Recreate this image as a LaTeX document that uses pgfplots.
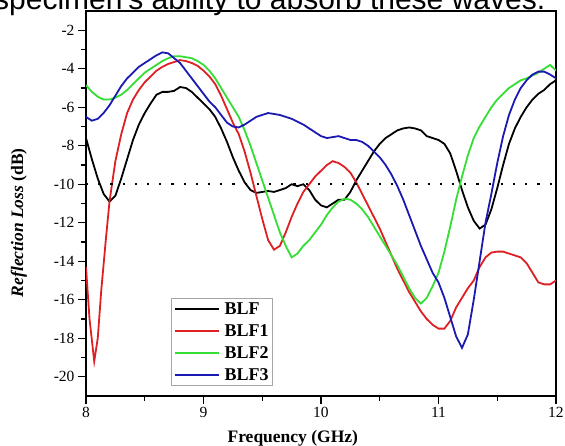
\documentclass[border=0pt]{standalone}
\usepackage{pgfplots}
\pgfplotsset{compat=1.18}
\usepackage{fontspec}
\setmainfont{Liberation Serif}
\newfontfamily\arialfont{Liberation Sans}

\definecolor{blfred}{RGB}{222,32,36}
\definecolor{blfgreen}{RGB}{52,222,52}
\definecolor{blfblue}{RGB}{26,26,178}

\begin{document}
\begin{tikzpicture}
    \begin{axis}[
        name=ax,
        scale only axis,
        width=470pt, height=385pt,
        xmin=8, xmax=12,
        ymin=-21, ymax=-1,
        xtick={8,9,10,11,12},
        ytick={-20,-18,-16,-14,-12,-10,-8,-6,-4,-2},
        minor x tick num=1,
        minor y tick num=1,
        tick align=outside,
        xtick pos=bottom,
        ytick pos=left,
        major tick length=8pt,
        minor tick length=5pt,
        axis line style={line width=1.3pt},
        every tick/.style={black, line width=1.1pt},
        /pgf/number format/assume math mode=true,
        tick label style={font=\fontsize{15.5}{18}\selectfont},
        xlabel={Frequency (GHz)},
        ylabel={\textit{Reflection Loss} (dB)},
        xlabel style={at={(axis description cs:0.44,-0.122)}, anchor=base,
            font=\bfseries\fontsize{17.5}{20}\selectfont},
        ylabel style={at={(axis description cs:-0.143,0.45)}, anchor=center,
            font=\bfseries\fontsize{17.5}{20}\selectfont},
        legend style={at={(0.181,0.026)}, anchor=south west,
            draw=gray!70, line width=0.8pt,
            font=\bfseries\fontsize{18}{21}\selectfont,
            inner xsep=2pt, inner ysep=2pt,
            row sep=4.5pt,
            /tikz/every odd column/.append style={column sep=3pt}},
        legend cell align=left,
        legend image code/.code={\draw[#1, line width=2.2pt] (0pt,0pt) -- (44pt,0pt);},
        every axis plot/.append style={line width=1.8pt},
    ]
        \addplot[black] coordinates {
            (8.00,-7.6) (8.05,-8.7) (8.10,-9.7) (8.15,-10.5) (8.20,-10.9)
            (8.25,-10.6) (8.30,-9.7) (8.35,-8.7) (8.40,-7.7) (8.45,-6.9)
            (8.50,-6.3) (8.55,-5.8) (8.60,-5.35) (8.65,-5.2) (8.70,-5.2)
            (8.75,-5.15) (8.80,-4.95) (8.85,-5.0) (8.90,-5.2) (8.95,-5.5)
            (9.00,-5.8) (9.05,-6.1) (9.10,-6.5) (9.15,-7.1) (9.20,-7.8)
            (9.25,-8.6) (9.30,-9.3) (9.35,-9.9) (9.40,-10.3) (9.45,-10.45)
            (9.50,-10.4) (9.55,-10.35) (9.60,-10.4) (9.65,-10.3) (9.70,-10.2)
            (9.75,-10.0) (9.80,-10.1) (9.85,-10.0) (9.90,-10.3) (9.95,-10.8)
            (10.00,-11.1) (10.05,-11.2) (10.10,-11.0) (10.15,-10.8) (10.20,-10.8)
            (10.25,-10.4) (10.30,-9.8) (10.35,-9.3) (10.40,-8.8) (10.45,-8.3)
            (10.50,-7.9) (10.55,-7.6) (10.60,-7.4) (10.65,-7.2) (10.70,-7.1)
            (10.75,-7.05) (10.80,-7.1) (10.85,-7.2) (10.90,-7.5) (10.95,-7.6)
            (11.00,-7.7) (11.05,-7.9) (11.10,-8.4) (11.15,-9.3) (11.20,-10.3)
            (11.25,-11.2) (11.30,-11.9) (11.35,-12.3) (11.40,-12.1) (11.45,-11.3)
            (11.50,-10.2) (11.55,-9.0) (11.60,-7.9) (11.65,-7.1) (11.70,-6.5)
            (11.75,-6.0) (11.80,-5.6) (11.85,-5.3) (11.90,-5.1) (11.95,-4.8)
            (12.00,-4.6)
        };
        \addlegendentry{BLF}
        \addplot[blfred] coordinates {
            (8.00,-14.3) (8.03,-17.0) (8.07,-19.2) (8.10,-18.0) (8.13,-15.5)
            (8.17,-12.8) (8.20,-10.9) (8.25,-8.8) (8.30,-7.4) (8.35,-6.3)
            (8.40,-5.6) (8.45,-5.1) (8.50,-4.7) (8.55,-4.4) (8.60,-4.1)
            (8.65,-3.9) (8.70,-3.75) (8.75,-3.65) (8.80,-3.55) (8.85,-3.6)
            (8.90,-3.7) (8.95,-3.85) (9.00,-4.1) (9.05,-4.4) (9.10,-4.8)
            (9.15,-5.4) (9.20,-6.1) (9.25,-6.8) (9.30,-7.4) (9.35,-8.3)
            (9.40,-9.4) (9.45,-10.6) (9.50,-11.8) (9.55,-12.9) (9.60,-13.4)
            (9.65,-13.2) (9.70,-12.5) (9.75,-11.7) (9.80,-11.0) (9.85,-10.4)
            (9.90,-10.0) (9.95,-9.6) (10.00,-9.3) (10.05,-9.0) (10.10,-8.8)
            (10.15,-8.9) (10.20,-9.1) (10.25,-9.4) (10.30,-9.9) (10.35,-10.5)
            (10.40,-11.1) (10.45,-11.7) (10.50,-12.3) (10.55,-13.0) (10.60,-13.7)
            (10.65,-14.4) (10.70,-15.0) (10.75,-15.6) (10.80,-16.1) (10.85,-16.6)
            (10.90,-17.0) (10.95,-17.3) (11.00,-17.5) (11.05,-17.5) (11.10,-17.1)
            (11.15,-16.4) (11.20,-15.9) (11.25,-15.4) (11.30,-15.0) (11.35,-14.3)
            (11.40,-13.8) (11.45,-13.55) (11.50,-13.5) (11.55,-13.5) (11.60,-13.6)
            (11.65,-13.7) (11.70,-13.8) (11.75,-14.1) (11.80,-14.6) (11.85,-15.1)
            (11.90,-15.2) (11.95,-15.2) (12.00,-15.0)
        };
        \addlegendentry{BLF1}
        \addplot[blfgreen] coordinates {
            (8.00,-4.85) (8.05,-5.2) (8.10,-5.45) (8.15,-5.6) (8.20,-5.6)
            (8.25,-5.5) (8.30,-5.35) (8.35,-5.1) (8.40,-4.8) (8.45,-4.5)
            (8.50,-4.2) (8.55,-4.0) (8.60,-3.8) (8.65,-3.6) (8.70,-3.45)
            (8.75,-3.35) (8.80,-3.35) (8.85,-3.4) (8.90,-3.45) (8.95,-3.6)
            (9.00,-3.8) (9.05,-4.1) (9.10,-4.5) (9.15,-5.0) (9.20,-5.5)
            (9.25,-6.0) (9.30,-6.5) (9.35,-7.2) (9.40,-8.0) (9.45,-8.9)
            (9.50,-9.8) (9.55,-10.7) (9.60,-11.6) (9.65,-12.5) (9.70,-13.2)
            (9.75,-13.8) (9.80,-13.6) (9.85,-13.2) (9.90,-12.9) (9.95,-12.5)
            (10.00,-12.1) (10.05,-11.6) (10.10,-11.2) (10.15,-10.9) (10.20,-10.75)
            (10.25,-10.8) (10.30,-11.0) (10.35,-11.3) (10.40,-11.7) (10.45,-12.2)
            (10.50,-12.7) (10.55,-13.2) (10.60,-13.7) (10.65,-14.2) (10.70,-14.8)
            (10.75,-15.4) (10.80,-15.9) (10.85,-16.2) (10.90,-15.9) (10.95,-15.3)
            (11.00,-14.6) (11.05,-13.5) (11.10,-12.2) (11.15,-10.8) (11.20,-9.6)
            (11.25,-8.5) (11.30,-7.6) (11.35,-7.0) (11.40,-6.5) (11.45,-6.0)
            (11.50,-5.6) (11.55,-5.3) (11.60,-5.0) (11.65,-4.8) (11.70,-4.6)
            (11.75,-4.5) (11.80,-4.35) (11.85,-4.2) (11.90,-4.0) (11.95,-3.8)
            (12.00,-4.1)
        };
        \addlegendentry{BLF2}
        \addplot[blfblue] coordinates {
            (8.00,-6.5) (8.05,-6.7) (8.10,-6.6) (8.15,-6.3) (8.20,-5.9)
            (8.25,-5.4) (8.30,-4.9) (8.35,-4.5) (8.40,-4.2) (8.45,-3.9)
            (8.50,-3.7) (8.55,-3.5) (8.60,-3.3) (8.65,-3.15) (8.70,-3.2)
            (8.75,-3.45) (8.80,-3.7) (8.85,-4.1) (8.90,-4.5) (8.95,-4.9)
            (9.00,-5.3) (9.05,-5.7) (9.10,-6.0) (9.15,-6.4) (9.20,-6.8)
            (9.25,-7.0) (9.30,-7.05) (9.35,-6.9) (9.40,-6.7) (9.45,-6.5)
            (9.50,-6.4) (9.55,-6.3) (9.60,-6.35) (9.65,-6.4) (9.70,-6.5)
            (9.75,-6.6) (9.80,-6.75) (9.85,-6.9) (9.90,-7.1) (9.95,-7.3)
            (10.00,-7.5) (10.05,-7.6) (10.10,-7.55) (10.15,-7.5) (10.20,-7.6)
            (10.25,-7.7) (10.30,-7.7) (10.35,-7.8) (10.40,-8.0) (10.45,-8.3)
            (10.50,-8.6) (10.55,-9.0) (10.60,-9.5) (10.65,-10.1) (10.70,-10.8)
            (10.75,-11.6) (10.80,-12.4) (10.85,-13.2) (10.90,-13.9) (10.95,-14.6)
            (11.00,-15.1) (11.05,-15.9) (11.10,-16.9) (11.15,-17.9) (11.20,-18.5)
            (11.25,-17.8) (11.30,-16.0) (11.35,-14.0) (11.40,-12.0) (11.45,-10.5)
            (11.50,-8.9) (11.55,-7.5) (11.60,-6.4) (11.65,-5.6) (11.70,-5.0)
            (11.75,-4.6) (11.80,-4.3) (11.85,-4.15) (11.90,-4.15) (11.95,-4.3)
            (12.00,-4.5)
        };
        \addlegendentry{BLF3}
        \addplot[black, line width=2.2pt, dash pattern=on 2.2pt off 10pt, forget plot]
            coordinates {(8,-10) (12,-10)};
    \end{axis}
    % cut-off line of running text above the figure
    \node[anchor=base west, inner sep=0pt, font=\arialfont\fontsize{30}{34}\selectfont]
        at ([xshift=-92pt,yshift=386pt]ax.south west) {specimen's ability to absorb these waves.};
    \pgfresetboundingbox
    \path[use as bounding box] ([xshift=-86pt,yshift=-49pt]ax.south west)
        rectangle ([xshift=479pt,yshift=396pt]ax.south west);
\end{tikzpicture}
\end{document}
